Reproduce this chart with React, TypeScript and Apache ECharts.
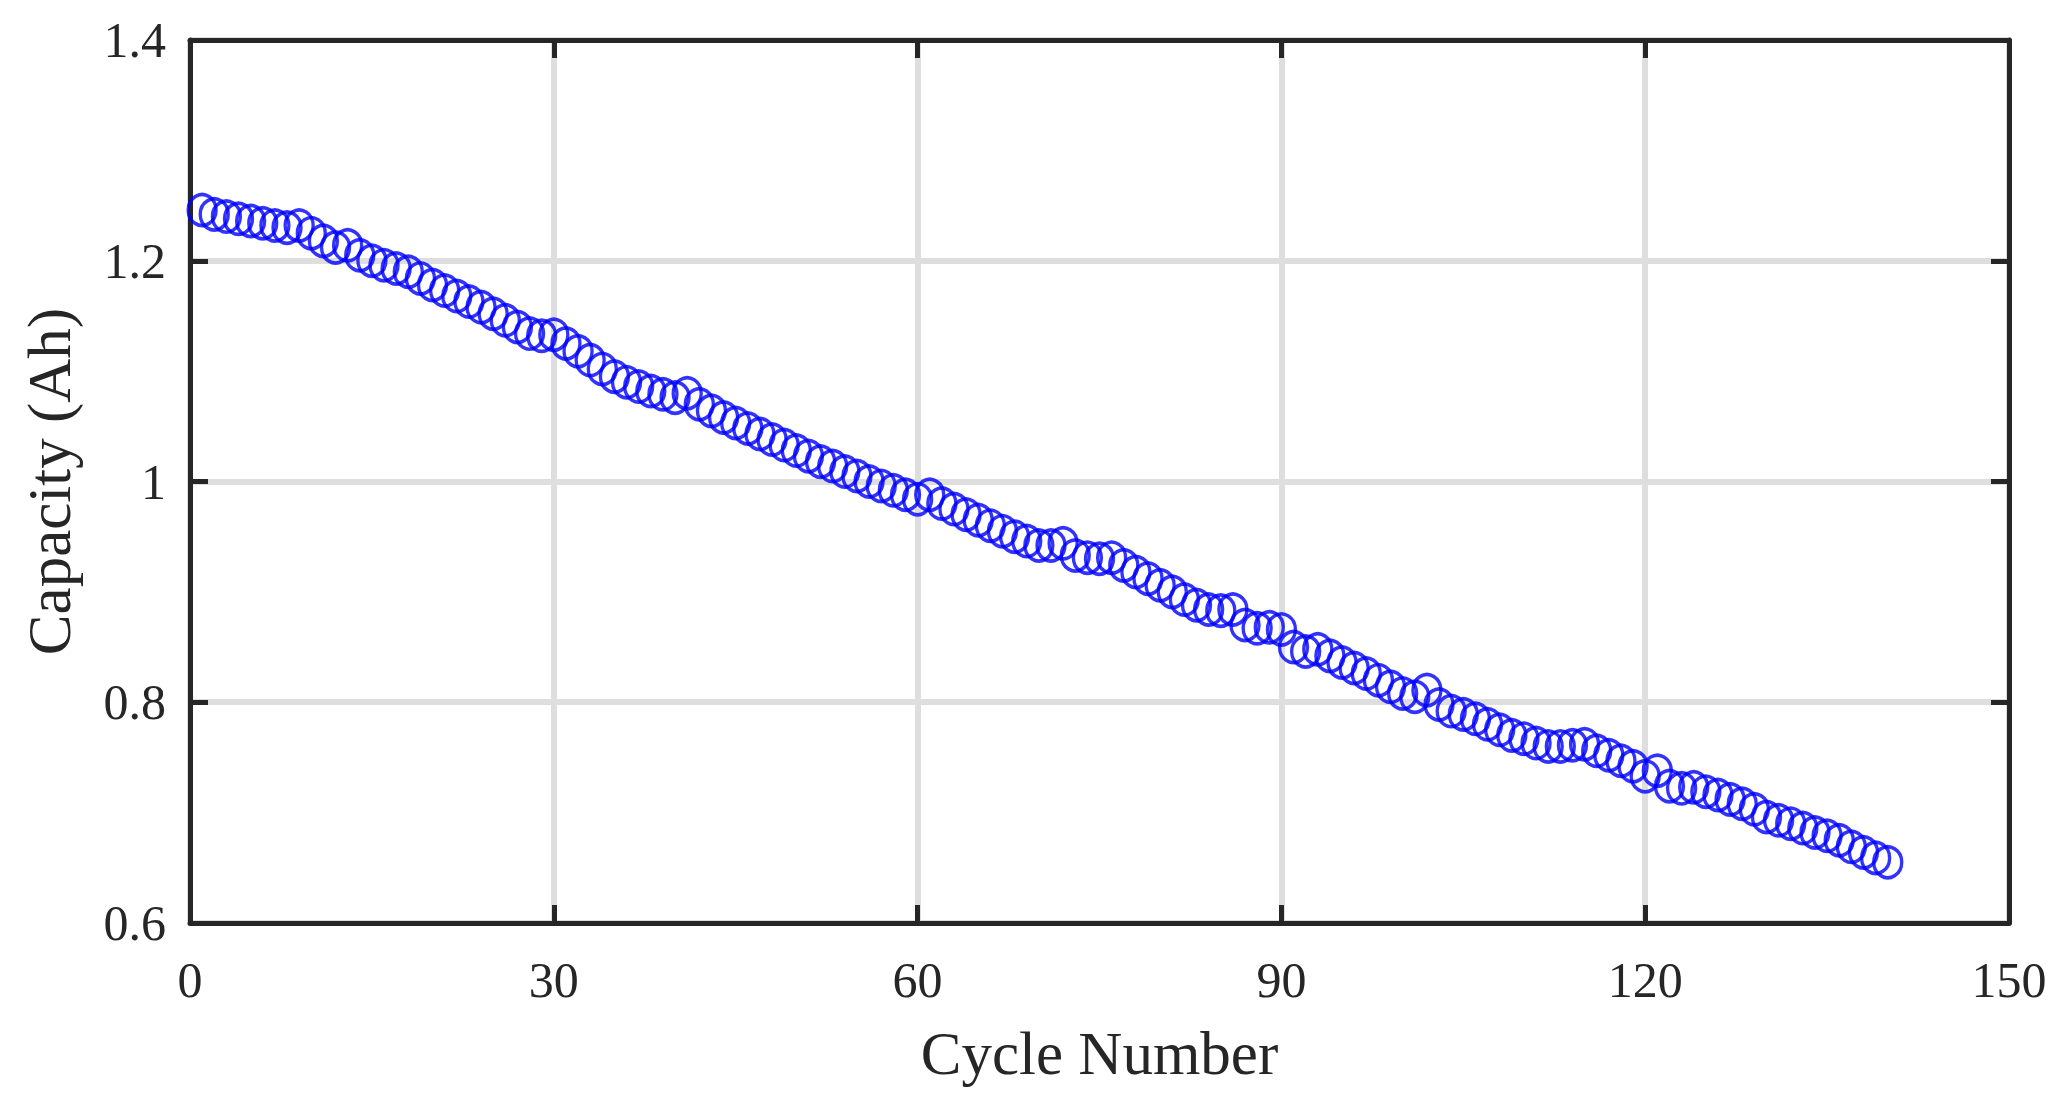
import React, { useEffect, useRef } from "react";
import * as echarts from "echarts";

const cycles: number[] = [
  1, 2, 3, 4, 5, 6, 7, 8, 9, 10, 11, 12, 13, 14, 15, 16, 17, 18, 19,
  20, 21, 22, 23, 24, 25, 26, 27, 28, 29, 30, 31, 32, 33, 34, 35, 36, 37, 38, 39,
  40, 41, 42, 43, 44, 45, 46, 47, 48, 49, 50, 51, 52, 53, 54, 55, 56, 57, 58, 59,
  60, 61, 62, 63, 64, 65, 66, 67, 68, 69, 70, 71, 72, 73, 74, 75, 76, 77, 78, 79,
  80, 81, 82, 83, 84, 85, 86, 87, 88, 89, 90, 91, 92, 93, 94, 95, 96, 97, 98, 99,
  100, 101, 102, 103, 104, 105, 106, 107, 108, 109, 110, 111, 112, 113, 114, 115, 116, 117, 118, 119,
  120, 121, 122, 123, 124, 125, 126, 127, 128, 129, 130, 131, 132, 133, 134, 135, 136, 137, 138, 139,
  140,
];

const capacity: number[] = [
  1.246, 1.242, 1.240, 1.238, 1.236, 1.234, 1.232, 1.230, 1.232,
  1.225, 1.218, 1.212, 1.214, 1.205, 1.200, 1.196, 1.193, 1.190, 1.184,
  1.178, 1.173, 1.168, 1.163, 1.158, 1.152, 1.146, 1.140, 1.134, 1.132,
  1.133, 1.125, 1.118, 1.110, 1.102, 1.095, 1.090, 1.086, 1.082, 1.079,
  1.076, 1.080, 1.070, 1.064, 1.058, 1.053, 1.048, 1.043, 1.038, 1.033,
  1.028, 1.023, 1.018, 1.014, 1.009, 1.005, 1.000, 0.996, 0.992, 0.988,
  0.984, 0.988, 0.980, 0.975, 0.970, 0.965, 0.960, 0.955, 0.950, 0.946,
  0.942, 0.942, 0.944, 0.933, 0.931, 0.930, 0.931, 0.924, 0.918, 0.912,
  0.906, 0.900, 0.893, 0.888, 0.884, 0.883, 0.884, 0.870, 0.867, 0.868,
  0.866, 0.850, 0.846, 0.848, 0.842, 0.836, 0.831, 0.826, 0.820, 0.814,
  0.808, 0.805, 0.811, 0.798, 0.792, 0.789, 0.785, 0.780, 0.775, 0.770,
  0.767, 0.763, 0.760, 0.760, 0.761, 0.762, 0.756, 0.752, 0.747, 0.742,
  0.733, 0.738, 0.724, 0.722, 0.723, 0.719, 0.716, 0.712, 0.708, 0.703,
  0.696, 0.693, 0.690, 0.686, 0.682, 0.679, 0.675, 0.669, 0.664, 0.659,
  0.655,
];

const xTicks = { min: 0, max: 150, interval: 30 };
const yTicks = { min: 0.6, max: 1.4, interval: 0.2 };
const xLabel = "Cycle Number";
const yLabel = "Capacity (Ah)";

const FONT = "'Liberation Serif', 'Times New Roman', serif";
const INK = "#262626";

export default function App() {
  const ref = useRef<HTMLDivElement>(null);

  useEffect(() => {
    if (!ref.current) return;
    const chart = echarts.init(ref.current, undefined, { renderer: "svg" });
    const data = cycles.map((c, i) => [c, capacity[i]]);

    const axisLine = { show: true, onZero: false, lineStyle: { color: INK, width: 5 } };
    const axisTick = { show: true, inside: true, length: 18, lineStyle: { color: INK, width: 5 } };

    chart.setOption({
      animation: false,
      backgroundColor: "#ffffff",
      grid: { left: 190, right: 56, top: 40, bottom: 177, containLabel: false },
      xAxis: [
        {
          type: "value",
          position: "bottom",
          min: xTicks.min,
          max: xTicks.max,
          interval: xTicks.interval,
          name: xLabel,
          nameLocation: "middle",
          nameGap: 100,
          nameTextStyle: { fontFamily: FONT, fontSize: 61, color: INK },
          axisLine,
          axisTick,
          axisLabel: { show: true, margin: 32, fontFamily: FONT, fontSize: 50, color: INK },
          splitLine: { show: true, lineStyle: { color: "#dedede", width: 6 } },
        },
        {
          type: "value",
          position: "top",
          min: xTicks.min,
          max: xTicks.max,
          interval: xTicks.interval,
          axisLine,
          axisTick,
          axisLabel: { show: false },
          splitLine: { show: false },
        },
      ],
      yAxis: [
        {
          type: "value",
          position: "left",
          min: yTicks.min,
          max: yTicks.max,
          interval: yTicks.interval,
          name: yLabel,
          nameLocation: "middle",
          nameGap: 110,
          nameTextStyle: { fontFamily: FONT, fontSize: 61, color: INK },
          axisLine,
          axisTick,
          axisLabel: {
            show: true,
            margin: 24,
            fontFamily: FONT,
            fontSize: 50,
            color: INK,
            formatter: (v: number) => String(+v.toFixed(1)),
          },
          splitLine: { show: true, lineStyle: { color: "#dedede", width: 6 } },
        },
        {
          type: "value",
          position: "right",
          min: yTicks.min,
          max: yTicks.max,
          interval: yTicks.interval,
          axisLine,
          axisTick,
          axisLabel: { show: false },
          splitLine: { show: false },
        },
      ],
      series: [
        {
          type: "scatter",
          xAxisIndex: 0,
          yAxisIndex: 0,
          data,
          symbol: "circle",
          symbolSize: [28, 31],
          itemStyle: { color: "rgba(0,0,0,0)", borderColor: "#0000ff", borderWidth: 3.5 },
          emphasis: { disabled: true },
          z: 3,
        },
      ],
    });

    return () => chart.dispose();
  }, []);

  return (
    <div
      ref={ref}
      style={{ position: "fixed", left: 0, top: 0, width: 2065, height: 1100, background: "#fff" }}
    />
  );
}
